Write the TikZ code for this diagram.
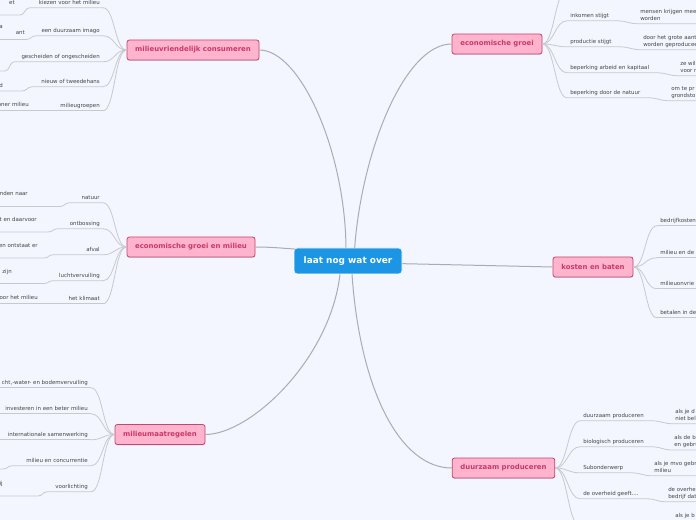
\documentclass[tikz,border=0pt]{standalone}
\usepackage{fontspec}
\setmainfont{DejaVu Sans}
\usetikzlibrary{shadows}
\definecolor{bg}{RGB}{243,246,254}
\definecolor{pinkfill}{RGB}{255,179,205}
\definecolor{pinkdraw}{RGB}{196,70,112}
\definecolor{pinktext}{RGB}{198,58,104}
\definecolor{ctrfill}{RGB}{28,150,228}
\definecolor{twigcol}{RGB}{200,201,206}
\definecolor{maincol}{RGB}{172,172,176}
\definecolor{leafcol}{RGB}{68,68,68}
\newcommand\mmstrut{\rule[-0.9pt]{0pt}{3.1pt}}
\begin{document}
\begin{tikzpicture}[x=0.75pt,y=-0.75pt,
  mainbox/.style={draw=pinkdraw, fill=pinkfill, line width=0.6pt, rounded corners=1.8pt, text=pinktext,
    font=\bfseries\fontsize{5.2}{6}\selectfont, minimum height=15pt, inner sep=0pt,
    drop shadow={shadow xshift=0pt,shadow yshift=-0.7pt,fill=black,opacity=0.15}},
  ctrbox/.style={fill=ctrfill, draw=white, line width=0.4pt, rounded corners=2.5pt, text=white,
    font=\bfseries\fontsize{6.7}{8}\selectfont, minimum width=81pt, minimum height=19.5pt, inner sep=0pt},
  leaf/.style={inner xsep=2.25pt, inner ysep=1.6pt, text height=3.1pt, text depth=0.9pt, text=leafcol,
    font=\fontsize{4.1}{5.2}\selectfont},
  frag/.style={inner sep=0pt, anchor=base east, text=leafcol, font=\fontsize{4.1}{5.2}\selectfont},
  leaftwo/.style={inner xsep=2.25pt, inner ysep=1.6pt, align=left, text=leafcol,
    font=\fontsize{4.1}{5.2}\selectfont, anchor=south west},
  twig/.style={draw=twigcol, line width=0.6pt},
  mainlink/.style={draw=maincol, line width=0.75pt},
]
\fill[bg] (0,0) rectangle (696,520);
\useasboundingbox (0,0) rectangle (696,520);
\clip (0,0) rectangle (696,520);

% ---------- main nodes ----------
\node[ctrbox] (ctr) at (348,261) {laat nog wat over};
\node[mainbox, minimum width=99pt] (c1) at (193,50) {milieuvriendelijk consumeren};
\node[mainbox, minimum width=96pt] (c2) at (191,247) {economische groei en milieu};
\node[mainbox, minimum width=67.5pt] (c3) at (160,434.5) {milieumaatregelen};
\node[mainbox, minimum width=67.5pt] (r1) at (497,44) {economische groei};
\node[mainbox, minimum width=60pt] (r2) at (593,267) {kosten en baten};
\node[mainbox, minimum width=77pt] (r3) at (503.5,468) {duurzaam produceren};

% ---------- central connectors ----------
\draw[mainlink] ([xshift=-1.5pt]ctr.north) .. controls (345,150) and (300,50) .. (c1.east);
\draw[mainlink] ([xshift=5pt]ctr.north) .. controls (362,150) and (405,44) .. (r1.west);
\draw[mainlink] ([xshift=1pt,yshift=-1pt]ctr.north west) .. controls (280,248) and (270,247) .. (c2.east);
\draw[mainlink] ([yshift=-2pt]ctr.east) -- (r2.west);
\draw[mainlink] ([xshift=-6pt]ctr.south) .. controls (330,360) and (250,434.5) .. (c3.east);
\draw[mainlink] ([xshift=3pt]ctr.south) .. controls (360,390) and (400,468) .. (r3.west);

% ---------- milieuvriendelijk consumeren ----------
\node[leaf,anchor=south east] (c1a) at (103,7.8) {kiezen voor het milieu};
\node[leaf,anchor=south east] (c1b) at (103,35.8) {een duurzaam imago};
\node[leaf,anchor=south east] (c1c) at (103,61.8) {gescheiden of ongescheiden};
\node[leaf,anchor=south east] (c1d) at (103,86.8) {nieuw of tweedehans};
\node[leaf,anchor=south east] (c1e) at (103,110.8) {milieugroepen};
\node[frag] (f1a) at (15,4.5) {et};
\node[frag] (f1b) at (3,28.5) {a};
\node[frag] (f1bb) at (25,34.5) {ant};
\node[frag] (f1d) at (3,87.5) {d};
\node[frag] (f1e) at (29,106.5) {oner milieu};
\coordinate (k1a) at (20,15);
\coordinate (k1b) at (26,39.5);
\coordinate (k1c) at (5,71);
\coordinate (k1d) at (22,91);
\foreach \s in {c1a,c1b,c1c,c1d,c1e}
  \draw[twig] (c1.west) .. controls +(-12,0) and +(12,0) .. (\s.south east);
\draw[twig] (c1a.south east) -- (c1a.south west) -- ++(-6,0) .. controls +(-5,0) and +(5,0) .. (k1a) -- ++(-40,0);
\draw[twig] (c1b.south east) -- (c1b.south west) -- ++(-2,0) .. controls +(-5,0) and +(5,0) .. (k1b) -- ++(-40,0);
\draw[twig] (c1c.south east) -- (c1c.south west) -- ++(-4,0) .. controls +(-5,0) and +(5,0) .. (k1c) -- ++(-40,0);
\draw[twig] (c1d.south east) -- (c1d.south west) -- ++(-6,0) .. controls +(-5,0) and +(5,0) .. (k1d) -- ++(-40,0);
\draw[twig] (c1e.south east) -- (c1e.south west) -- ++(-80,0);

% ---------- economische groei en milieu ----------
\node[leaf,anchor=south east] (c2a) at (103,202.8) {natuur};
\node[leaf,anchor=south east] (c2b) at (103,228.8) {ontbossing};
\node[leaf,anchor=south east] (c2c) at (103,254.8) {afval};
\node[leaf,anchor=south east] (c2d) at (103,280.8) {luchtvervuiling};
\node[leaf,anchor=south east] (c2e) at (103,303.8) {het klimaat};
\node[frag] (f2a) at (28,195.5) {nden naar};
\node[frag] (f2b) at (37,221.5) {t en daarvoor};
\node[frag] (f2c) at (38,247.5) {en ontstaat er};
\node[frag] (f2d) at (12,273.5) {zijn};
\node[frag] (f2e) at (38,299.5) {voor het milieu};
\coordinate (k2a) at (60,206.5);
\coordinate (k2b) at (48,232);
\coordinate (k2c) at (44,258);
\coordinate (k2d) at (44,283.5);
\foreach \s in {c2a,c2b,c2c,c2d,c2e}
  \draw[twig] (c2.west) .. controls +(-12,0) and +(12,0) .. (\s.south east);
\draw[twig] (c2a.south east) -- (c2a.south west) -- ++(-9,0) .. controls +(-5,0) and +(5,0) .. (k2a) -- ++(-70,0);
\draw[twig] (c2b.south east) -- (c2b.south west) -- ++(-9,0) .. controls +(-5,0) and +(5,0) .. (k2b) -- ++(-70,0);
\draw[twig] (c2c.south east) -- (c2c.south west) -- ++(-30,0) .. controls +(-5,0) and +(5,0) .. (k2c) -- ++(-70,0);
\draw[twig] (c2d.south east) -- (c2d.south west) -- ++(-3,0) .. controls +(-5,0) and +(5,0) .. (k2d) -- ++(-70,0);
\draw[twig] (c2e.south east) -- (c2e.south west) -- ++(-80,0);

% ---------- milieumaatregelen ----------
\node[leaf,anchor=south east] (c3a) at (91,387.8) {cht,-water- en bodemvervuiling};
\node[leaf,anchor=south east] (c3b) at (91,413.8) {investeren in een beter milieu};
\node[leaf,anchor=south east] (c3c) at (91,439.8) {internationale samenwerking};
\node[leaf,anchor=south east] (c3d) at (91,465.8) {milieu en concurrentie};
\node[leaf,anchor=south east] (c3e) at (91,491.8) {voorlichting};
\node[frag] (f3e) at (3,485.5) {ij};
\coordinate (k3d) at (3,469);
\coordinate (k3e) at (38,496);
\foreach \s in {c3a,c3b,c3c,c3d,c3e}
  \draw[twig] (c3.west) .. controls +(-12,0) and +(12,0) .. (\s.south east);
\draw[twig] (c3a.south east) -- (c3a.south west) -- ++(-20,0);
\draw[twig] (c3b.south east) -- (c3b.south west) -- ++(-20,0);
\draw[twig] (c3c.south east) -- (c3c.south west) -- ++(-20,0);
\draw[twig] (c3d.south east) -- (c3d.south west) -- ++(-11,0) .. controls +(-5,0) and +(5,0) .. (k3d) -- ++(-20,0);
\draw[twig] (c3e.south east) -- (c3e.south west) -- ++(-5,0) .. controls +(-5,0) and +(5,0) .. (k3e) -- ++(-60,0);

% ---------- economische groei ----------
\node[leaf,anchor=south west] (r1a) at (567,20.8) {inkomen stijgt};
\node[leaf,anchor=south west] (r1b) at (567,46.8) {productie stijgt};
\node[leaf,anchor=south west] (r1c) at (567,72.8) {beperking arbeid en kapitaal};
\node[leaf,anchor=south west] (r1d) at (567,97.8) {beperking door de natuur};
\node[leaftwo] (s1a) at (637,23.8) {mensen krijgen mee\mmstrut\\worden\mmstrut};
\node[leaftwo] (s1b) at (640,49.8) {door het grote aant\mmstrut\\worden geproducee\mmstrut};
\node[leaftwo] (s1c) at (677,75.8) {ze wil\mmstrut\\voor r\mmstrut};
\node[leaftwo] (s1d) at (668,100.8) {om te pr\mmstrut\\grondsto\mmstrut};
\coordinate (r1x) at (567,-10);
\foreach \s in {r1a,r1b,r1c,r1d}
  \draw[twig] (r1.east) .. controls +(12,0) and +(-12,0) .. (\s.south west);
\draw[twig] (r1.east) .. controls +(12,0) and +(-12,0) .. (r1x);
\draw[twig] (r1a.south west) -- (r1a.south east) -- ++(6,0) .. controls +(7,0) and +(-7,0) .. (s1a.south west) -- ++(80,0);
\draw[twig] (r1b.south west) -- (r1b.south east) -- ++(6,0) .. controls +(7,0) and +(-7,0) .. (s1b.south west) -- ++(80,0);
\draw[twig] (r1c.south west) -- (r1c.south east) -- ++(6,0) .. controls +(7,0) and +(-7,0) .. (s1c.south west) -- ++(80,0);
\draw[twig] (r1d.south west) -- (r1d.south east) -- ++(6,0) .. controls +(7,0) and +(-7,0) .. (s1d.south west) -- ++(80,0);

% ---------- kosten en baten ----------
\node[leaf,anchor=south west] (r2a) at (657,225.8) {bedrijfkosten};
\node[leaf,anchor=south west] (r2b) at (657,257.8) {milieu en de};
\node[leaf,anchor=south west] (r2c) at (657,288.8) {milieuonvrie};
\node[leaf,anchor=south west] (r2d) at (657,317.8) {betalen in de};
\foreach \s in {r2a,r2b,r2c,r2d}{
  \draw[twig] (r2.east) .. controls +(12,0) and +(-12,0) .. (\s.south west);
  \draw[twig] (\s.south west) -- ++(60,0);
}

% ---------- duurzaam produceren ----------
\node[leaf,anchor=south west] (r3a) at (580,420.8) {duurzaam produceren};
\node[leaf,anchor=south west] (r3b) at (580,446.8) {biologisch produceren};
\node[leaf,anchor=south west] (r3c) at (580,472.8) {Subonderwerp};
\node[leaf,anchor=south west] (r3d) at (580,498.8) {de overheid geeft....};
\node[leaftwo] (s3a) at (672,423.8) {als je d\mmstrut\\niet bel\mmstrut};
\node[leaftwo] (s3b) at (671,450) {als de b\mmstrut\\en gebru\mmstrut};
\node[leaftwo] (s3c) at (651,475.8) {als je mvo gebr\mmstrut\\milieu\mmstrut};
\node[leaftwo] (s3d) at (665,501.8) {de overhei\mmstrut\\bedrijf dat\mmstrut};
\node[leaftwo] (s3e) at (672,527.8) {als je b\mmstrut\\\mmstrut};
\coordinate (r3x) at (580,526);
\foreach \s in {r3a,r3b,r3c,r3d}
  \draw[twig] (r3.east) .. controls +(12,0) and +(-12,0) .. (\s.south west);
\draw[twig] (r3.east) .. controls +(12,0) and +(-12,0) .. (r3x);
\draw[twig] (r3a.south west) -- (r3a.south east) -- ++(6,0) .. controls +(7,0) and +(-7,0) .. (s3a.south west) -- ++(80,0);
\draw[twig] (r3b.south west) -- (r3b.south east) -- ++(6,0) .. controls +(7,0) and +(-7,0) .. (s3b.south west) -- ++(80,0);
\draw[twig] (r3c.south west) -- (r3c.south east) -- ++(6,0) .. controls +(7,0) and +(-7,0) .. (s3c.south west) -- ++(80,0);
\draw[twig] (r3d.south west) -- (r3d.south east) -- ++(6,0) .. controls +(7,0) and +(-7,0) .. (s3d.south west) -- ++(80,0);
\end{tikzpicture}
\end{document}
